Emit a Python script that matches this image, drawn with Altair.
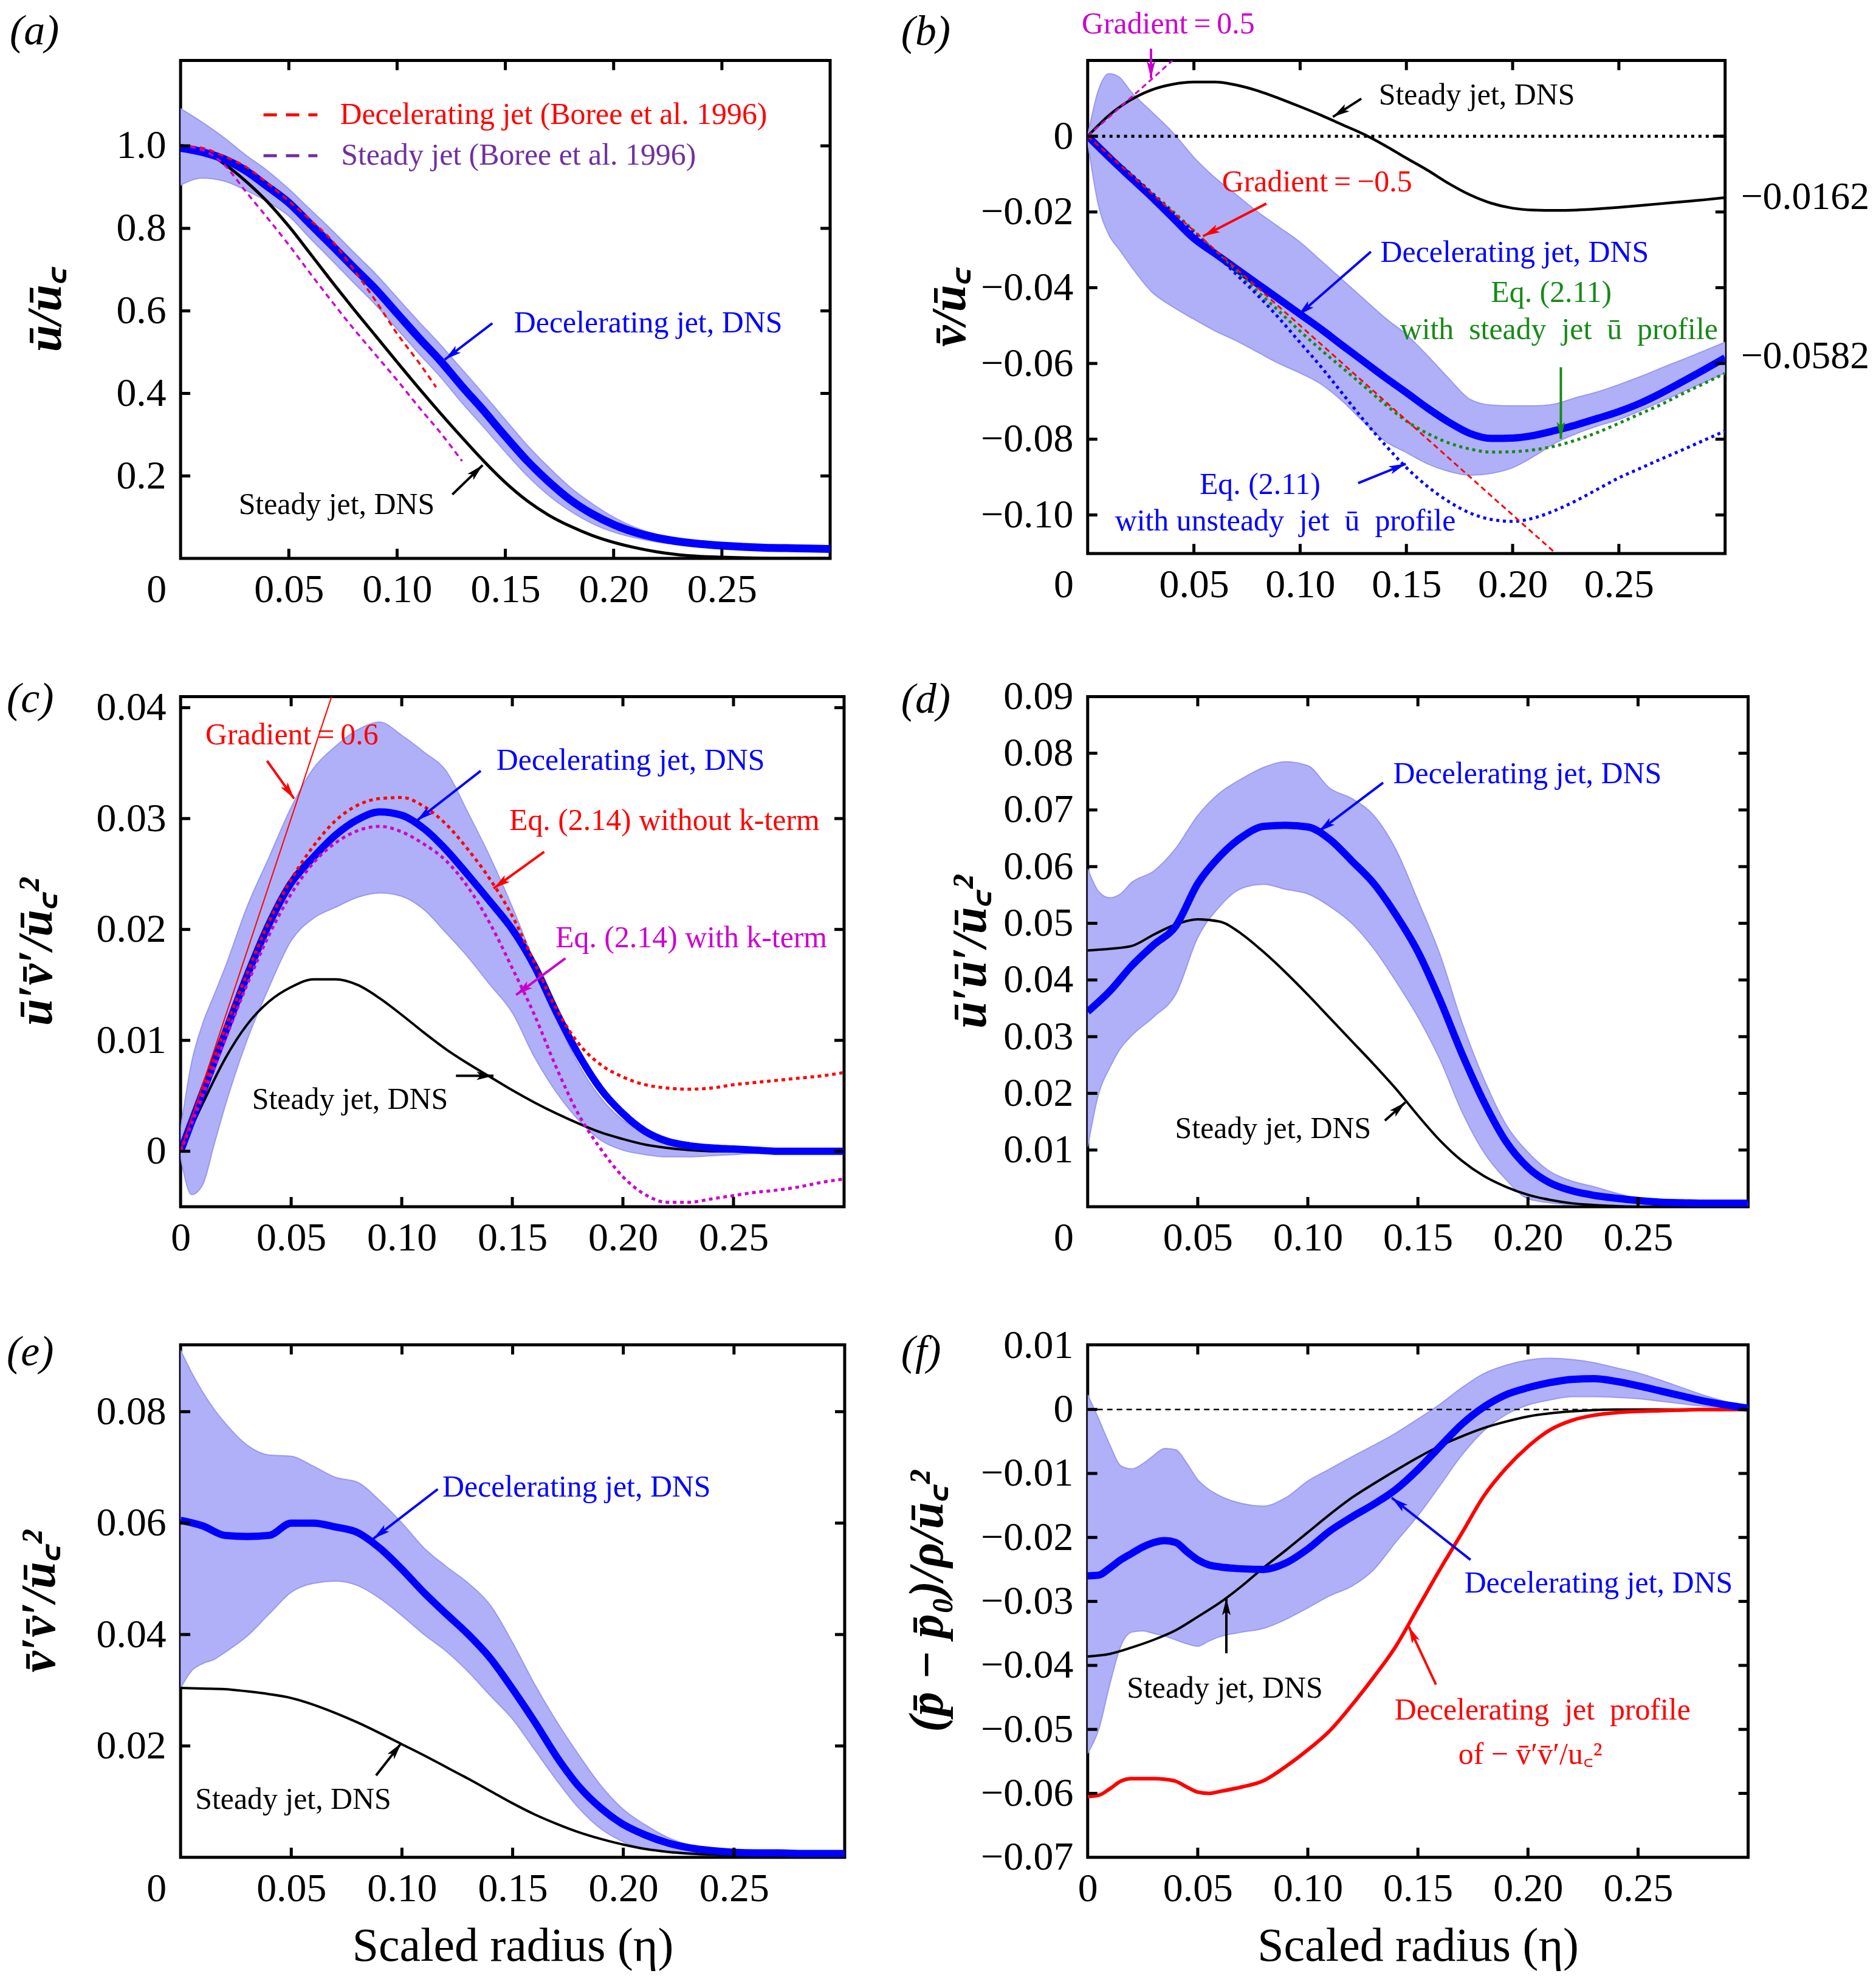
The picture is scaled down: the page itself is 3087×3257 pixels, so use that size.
import math
import altair as alt
import pandas as pd

SERIF = "Liberation Serif"
BLUE = "#0000ff"
BAND_FILL = "#b0b0f8"
BAND_EDGE = "#9898f0"
RED = "#ff0000"
MAGENTA = "#cc00cc"
GREEN = "#178a17"
PURPLE = "#7030a0"
BLACK = "#000000"

# ---------------- shared abscissae ----------------
ETA = [0.00, 0.01, 0.02, 0.03, 0.04, 0.05, 0.06, 0.07, 0.08, 0.09, 0.10,
       0.11, 0.12, 0.13, 0.14, 0.15, 0.16, 0.17, 0.18, 0.19, 0.20,
       0.21, 0.22, 0.23, 0.24, 0.25, 0.26, 0.27, 0.28, 0.29, 0.30]
ETA_BAND = [0.0, 0.005, 0.01, 0.015, 0.02, 0.03, 0.04, 0.05, 0.06, 0.07, 0.08, 0.09, 0.10,
            0.11, 0.12, 0.13, 0.14, 0.15, 0.16, 0.17, 0.18, 0.19, 0.20,
            0.21, 0.22, 0.23, 0.24, 0.25, 0.26, 0.27, 0.28, 0.29, 0.30]
ETA_FINE = [0.0, 0.005, 0.01, 0.015, 0.02, 0.025, 0.03, 0.035, 0.04, 0.045, 0.05, 0.055, 0.06,
            0.07, 0.08, 0.09, 0.10, 0.11, 0.12, 0.13, 0.14, 0.15, 0.16, 0.17, 0.18, 0.19, 0.20,
            0.21, 0.22, 0.23, 0.24, 0.25, 0.26, 0.27, 0.28, 0.29, 0.30]
XLABELS = [0.0, 0.05, 0.10, 0.15, 0.20, 0.25]
XTICKS = [0.05, 0.10, 0.15, 0.20, 0.25]

# ---------------- (a) mean axial velocity ----------------
A_DEC = [0.995, 0.985, 0.968, 0.94, 0.902, 0.862, 0.81, 0.758, 0.705, 0.653, 0.594,
         0.535, 0.479, 0.417, 0.358, 0.296, 0.237, 0.186, 0.142, 0.108, 0.082,
         0.063, 0.05, 0.041, 0.035, 0.031, 0.028, 0.026, 0.025, 0.024, 0.023]
A_HI = [1.09, 1.057, 1.02, 0.978, 0.94, 0.895, 0.845, 0.795, 0.742, 0.69, 0.632,
        0.574, 0.518, 0.458, 0.398, 0.336, 0.275, 0.221, 0.172, 0.133, 0.1,
        0.075, 0.058, 0.047, 0.039, 0.034, 0.031, 0.029, 0.027, 0.026, 0.025]
A_LO = [0.905, 0.922, 0.915, 0.893, 0.865, 0.83, 0.775, 0.722, 0.668, 0.615, 0.556,
        0.497, 0.44, 0.377, 0.318, 0.258, 0.201, 0.153, 0.115, 0.085, 0.064,
        0.05, 0.04, 0.034, 0.03, 0.028, 0.026, 0.024, 0.023, 0.022, 0.021]
A_STEADY = [1.0, 0.99, 0.957, 0.915, 0.865, 0.805, 0.738, 0.67, 0.604, 0.54, 0.476,
            0.413, 0.352, 0.293, 0.236, 0.184, 0.14, 0.105, 0.078, 0.056, 0.039,
            0.026, 0.016, 0.009, 0.005, 0.003, 0.0015, 0.0005, 0.0, 0.0, 0.0]
A_BDEC_X = [0.0, 0.01, 0.02, 0.03, 0.04, 0.05, 0.06, 0.07, 0.08, 0.09, 0.10, 0.11, 0.118]
A_BDEC = [1.0, 0.995, 0.975, 0.95, 0.91, 0.866, 0.82, 0.77, 0.70, 0.625, 0.545, 0.475, 0.415]
A_BST_X = [0.0, 0.01, 0.02, 0.03, 0.04, 0.05, 0.06, 0.07, 0.08, 0.09, 0.10, 0.11, 0.12, 0.13]
A_BST = [1.0, 0.99, 0.955, 0.89, 0.826, 0.76, 0.69, 0.622, 0.556, 0.494, 0.432, 0.367, 0.305, 0.236]

# ---------------- (b) mean radial velocity ----------------
B_DEC = [0.0, -0.0055, -0.0108, -0.016, -0.0215, -0.027, -0.031, -0.035, -0.039, -0.043, -0.047,
         -0.051, -0.0553, -0.0595, -0.0637, -0.0677, -0.0718, -0.0755, -0.0785, -0.0798, -0.0797,
         -0.079, -0.0777, -0.0762, -0.0745, -0.0727, -0.0705, -0.0678, -0.0648, -0.0617, -0.0585]
B_HI = [0.0, 0.012, 0.0165, 0.0155, 0.012, 0.0065, 0.001, -0.0056, -0.011, -0.0155, -0.02, -0.024,
        -0.028, -0.033, -0.038, -0.043, -0.048, -0.0524, -0.058, -0.064, -0.0695, -0.071, -0.0712,
        -0.0712, -0.0707, -0.069, -0.0675, -0.0656, -0.0635, -0.0612, -0.059, -0.0567, -0.0544]
B_LO = [-0.0015, -0.018, -0.026, -0.03, -0.034, -0.041, -0.045, -0.0483, -0.0514, -0.054, -0.057,
        -0.06, -0.0625, -0.0655, -0.07, -0.0755, -0.0805, -0.0835, -0.0865, -0.0885, -0.0895,
        -0.089, -0.0875, -0.0845, -0.081, -0.0785, -0.0765, -0.0748, -0.0725, -0.07, -0.0675,
        -0.065, -0.0625]
B_STEADY = [0.0, 0.0055, 0.0095, 0.0122, 0.0137, 0.0143, 0.0143, 0.0135, 0.012, 0.010, 0.0078,
            0.0055, 0.003, 0.0005, -0.0025, -0.0058, -0.009, -0.0125, -0.0155, -0.0177, -0.019,
            -0.0195, -0.0196, -0.0195, -0.0192, -0.0188, -0.0183, -0.0178, -0.0173, -0.0168, -0.0162]
B_EQ_STEADY = [0.0, -0.005, -0.0098, -0.0148, -0.0198, -0.025, -0.0305, -0.0357, -0.041, -0.0462,
               -0.0515, -0.0565, -0.0612, -0.066, -0.0708, -0.0752, -0.0785, -0.081, -0.0826,
               -0.0834, -0.0833, -0.0828, -0.0818, -0.0802, -0.0782, -0.0758, -0.0733, -0.0708,
               -0.068, -0.0653, -0.0626]
B_EQ_UNSTEADY = [0.0, -0.005, -0.0099, -0.015, -0.0202, -0.0255, -0.031, -0.0365, -0.042, -0.048,
                 -0.0545, -0.061, -0.068, -0.075, -0.0815, -0.0875, -0.0925, -0.0965, -0.0995,
                 -0.1012, -0.1017, -0.1008, -0.0988, -0.0962, -0.0932, -0.0902, -0.0877, -0.0852,
                 -0.0828, -0.0803, -0.0778]
B_RIGHT_VALUES = [-0.0162, -0.0582]
B_RIGHT_TEXT = ["\u22120.0162", "\u22120.0582"]

# ---------------- (c) shear stress ----------------
C_DEC = [0.0, 0.0053, 0.0106, 0.0158, 0.0205, 0.0242, 0.0265, 0.0285, 0.0299, 0.0306, 0.0303,
         0.0291, 0.0272, 0.0249, 0.0225, 0.020, 0.0167, 0.0125, 0.0087, 0.0056, 0.0034,
         0.0018, 0.0009, 0.0005, 0.0003, 0.0002, 0.0001, 0.0, 0.0, 0.0, 0.0]
C_HI = [0.002, 0.008, 0.0115, 0.014, 0.0165, 0.022, 0.0265, 0.031, 0.0345, 0.0365, 0.038, 0.0387,
        0.0375, 0.036, 0.0343, 0.0305, 0.0265, 0.022, 0.017, 0.012, 0.0078, 0.0048, 0.0028,
        0.0017, 0.001, 0.0007, 0.0005, 0.0004, 0.0003, 0.0002, 0.0002, 0.0001, 0.0001]
C_LO = [-0.0005, -0.0039, -0.003, 0.0005, 0.004, 0.01, 0.0148, 0.019, 0.021, 0.022, 0.0229, 0.0233,
        0.023, 0.0218, 0.0197, 0.0175, 0.015, 0.0125, 0.0085, 0.0053, 0.0028, 0.001, 0.0001,
        -0.0003, -0.0005, -0.0005, -0.0004, -0.0003, -0.0002, -0.0002, -0.0001, -0.0001, -0.0001]
C_STEADY = [0.0, 0.0043, 0.0083, 0.0114, 0.0135, 0.0148, 0.0155, 0.0155, 0.015, 0.0138, 0.0123,
            0.0107, 0.0092, 0.0079, 0.0067, 0.0055, 0.0044, 0.0034, 0.0025, 0.0017, 0.0011,
            0.0006, 0.0003, 0.0001, 0.0, 0.0, 0.0, 0.0, 0.0, 0.0, 0.0]
C_EQ_NOK = [0.0, 0.0055, 0.011, 0.016, 0.0207, 0.0245, 0.0275, 0.0298, 0.0312, 0.0318, 0.0319,
            0.0311, 0.0295, 0.0272, 0.0245, 0.0212, 0.017, 0.0128, 0.0097, 0.0078, 0.0067,
            0.006, 0.0057, 0.0056, 0.0057, 0.006, 0.0062, 0.0064, 0.0066, 0.0068, 0.0071]
C_EQ_K = [0.0, 0.005, 0.01, 0.015, 0.0195, 0.0232, 0.026, 0.0278, 0.0289, 0.0293, 0.0288,
          0.0277, 0.0262, 0.0238, 0.0205, 0.0165, 0.0123, 0.0075, 0.0033, 0.0002, -0.0023,
          -0.0039, -0.0046, -0.0046, -0.0043, -0.004, -0.0037, -0.0035, -0.0032, -0.0028, -0.0025]

# ---------------- (d) axial normal stress ----------------
D_DEC = [0.0344, 0.038, 0.0425, 0.0462, 0.0495, 0.057, 0.0618, 0.0652, 0.0671, 0.0673, 0.0670,
         0.0648, 0.061, 0.057, 0.0515, 0.045, 0.0365, 0.027, 0.0185, 0.0115, 0.0069,
         0.0042, 0.0028, 0.002, 0.0015, 0.0011, 0.0008, 0.0007, 0.0006, 0.0006, 0.0006]
D_HI = [0.0596, 0.0556, 0.0545, 0.0552, 0.0572, 0.0592, 0.0632, 0.069, 0.073, 0.0755, 0.0775,
        0.0785, 0.0778, 0.0738, 0.072, 0.069, 0.063, 0.054, 0.0445, 0.0325, 0.0225, 0.0145,
        0.0096, 0.0062, 0.0045, 0.0035, 0.0024, 0.0014, 0.0008, 0.0007, 0.0007, 0.0007, 0.0007]
D_LO = [0.0106, 0.02, 0.0245, 0.028, 0.0302, 0.0335, 0.0375, 0.0475, 0.053, 0.0562, 0.0569,
        0.056, 0.0552, 0.053, 0.05, 0.0455, 0.0398, 0.0335, 0.026, 0.0168, 0.0096, 0.0048,
        0.0014, 0.0007, 0.0004, 0.0003, 0.0002, 0.0002, 0.0001, 0.0001, 0.0001, 0.0001, 0.0001]
D_STEADY = [0.0452, 0.0455, 0.046, 0.048, 0.0498, 0.0507, 0.0503, 0.0481, 0.0449, 0.0413, 0.0374,
            0.0333, 0.0292, 0.0251, 0.0208, 0.0161, 0.0117, 0.0081, 0.0054, 0.0035, 0.0021,
            0.0012, 0.0006, 0.0003, 0.0001, 0.0, 0.0, 0.0, 0.0, 0.0, 0.0]

# ---------------- (e) radial normal stress ----------------
E_DEC = [0.0605, 0.0595, 0.0578, 0.0576, 0.0578, 0.060, 0.060, 0.0593, 0.0583, 0.0555, 0.0517,
         0.0475, 0.0437, 0.040, 0.0357, 0.0302, 0.0243, 0.018, 0.0127, 0.0088, 0.0059,
         0.004, 0.0026, 0.0017, 0.0012, 0.0009, 0.0008, 0.0008, 0.0007, 0.0007, 0.0007]
E_HI = [0.091, 0.087, 0.0835, 0.0805, 0.078, 0.074, 0.0722, 0.072, 0.0702, 0.0682, 0.0673,
        0.064, 0.060, 0.0555, 0.0522, 0.0492, 0.0452, 0.0385, 0.031, 0.0243, 0.0183, 0.0128,
        0.0086, 0.0058, 0.0036, 0.0022, 0.0015, 0.0011, 0.001, 0.0009, 0.0009, 0.0008, 0.0008]
E_LO = [0.0304, 0.0335, 0.0348, 0.0355, 0.0368, 0.0397, 0.0437, 0.0476, 0.0492, 0.0496, 0.0488,
        0.0465, 0.0434, 0.040, 0.037, 0.0333, 0.029, 0.0248, 0.0193, 0.0138, 0.0088, 0.0051,
        0.0028, 0.0015, 0.0009, 0.0005, 0.0004, 0.0003, 0.0003, 0.0002, 0.0002, 0.0002, 0.0002]
E_STEADY = [0.0304, 0.0303, 0.0302, 0.0298, 0.0293, 0.0286, 0.0274, 0.0259, 0.0242, 0.0223, 0.0203,
            0.0183, 0.0162, 0.0141, 0.0119, 0.0097, 0.0077, 0.006, 0.0045, 0.0033, 0.0023,
            0.0015, 0.001, 0.0007, 0.0005, 0.0003, 0.0002, 0.0001, 0.0, 0.0, 0.0]

# ---------------- (f) pressure ----------------
F_DEC = [-0.026, -0.0259, -0.0248, -0.0235, -0.0225, -0.0215, -0.0208, -0.0205, -0.0208, -0.0222,
         -0.0235, -0.0243, -0.0246, -0.0249, -0.025, -0.024, -0.0218, -0.019, -0.0168, -0.0148,
         -0.0125, -0.0094, -0.0058, -0.0023, 0.0004, 0.0023, 0.0034, 0.0042, 0.0047, 0.0048,
         0.0044, 0.0037, 0.0029, 0.0021, 0.0013, 0.0007, 0.0002]
F_HI = [0.0023, -0.0015, -0.0055, -0.0088, -0.0093, -0.0085, -0.0072, -0.0061, -0.0063, -0.0084,
        -0.011, -0.0125, -0.0135, -0.0147, -0.0151, -0.0138, -0.0112, -0.0093, -0.0074, -0.0056,
        -0.0037, -0.0015, 0.0008, 0.0034, 0.0056, 0.0069, 0.0077, 0.008, 0.0078, 0.0073,
        0.0065, 0.0057, 0.0046, 0.0034, 0.0022, 0.0012, 0.0004]
F_LO = [-0.0537, -0.050, -0.043, -0.037, -0.0348, -0.0346, -0.035, -0.0354, -0.036, -0.0366,
        -0.037, -0.0362, -0.0355, -0.0348, -0.0342, -0.0328, -0.031, -0.0291, -0.0276, -0.025,
        -0.0207, -0.0166, -0.0119, -0.0071, -0.0033, -0.0008, 0.0007, 0.0015, 0.002, 0.002,
        0.0019, 0.0017, 0.0013, 0.0009, 0.0005, 0.0003, 0.0001]
F_STEADY = [-0.0386, -0.0382, -0.0372, -0.036, -0.0345, -0.0324, -0.0302, -0.0276, -0.0247, -0.022,
            -0.0192, -0.0164, -0.0138, -0.0116, -0.0095, -0.0075, -0.0057, -0.0042, -0.0029,
            -0.0019, -0.0011, -0.0006, -0.0003, -0.0001, 0.0, 0.0, 0.0, 0.0, 0.0, 0.0, 0.0]
F_VV = [-0.0605, -0.0603, -0.0593, -0.0581, -0.0577, -0.0577, -0.0577, -0.0578, -0.0581, -0.059,
        -0.0598, -0.060, -0.0597, -0.059, -0.058, -0.0558, -0.0532, -0.0502, -0.0462, -0.0418,
        -0.037, -0.031, -0.025, -0.0193, -0.0135, -0.0092, -0.0058, -0.0032, -0.0017, -0.0009,
        -0.0005, -0.0003, -0.0002, -0.0001, 0.0, 0.0, 0.0]

ARROW = "M0,0 L0.5,2 L0,1.55 L-0.5,2 Z"
UC = "ū\ua700"          # u-bar with a low "c"
MAC = "\u0304"          # combining macron


class Panel:
    def __init__(self, w, h, ydom, ytitle, title_x, ylabels, yfmt, yticks, zero_shift, xtitle=None):
        self.w, self.h = w, h
        self.xdom = [0.0, 0.3]
        self.ydom = ydom
        self.xs = alt.Scale(domain=self.xdom, nice=False, zero=False)
        self.ys = alt.Scale(domain=ydom, nice=False, zero=False)
        xkw = dict(values=XLABELS,
                   labelExpr="datum.value == 0 ? '0' : format(datum.value, '.2f')",
                   labelFlush=False, labelPadding=20,
                   labelOffset={"condition": {"test": "datum.value == 0", "value": zero_shift}, "value": 0})
        if xtitle:
            xkw.update(title=xtitle, titleX=w / 2, titleY=147, titleBaseline="middle",
                       titleAlign="center", titleFontSize=78, titleFontWeight="normal")
        else:
            xkw.update(title=None)
        self.xaxis = alt.Axis(**xkw)
        self.yaxis = alt.Axis(values=ylabels, labelExpr=yfmt, labelPadding=24, title=ytitle,
                              titleX=title_x, titleY=h / 2, titleAngle=270, titleAlign="center",
                              titleBaseline="middle", titleFontStyle="italic", titleFontWeight="bold",
                              titleFontSize=80)
        self.yticks = yticks
        self.layers = []

    def X(self, f):
        return alt.X(f, type="quantitative", scale=self.xs, axis=self.xaxis)

    def Y(self, f):
        return alt.Y(f, type="quantitative", scale=self.ys, axis=self.yaxis)

    def band(self, xs, lo, hi):
        df = pd.DataFrame({"x": xs, "lo": lo, "hi": hi})
        self.layers.append(alt.Chart(df).mark_area(
            color=BAND_FILL, opacity=1, stroke=BAND_EDGE, strokeWidth=2,
            interpolate="monotone", clip=True).encode(
            x=self.X("x"), y=self.Y("lo"), y2=alt.Y2("hi")))

    def line(self, xs, ys, color, width, dash=None, interp="monotone"):
        df = pd.DataFrame({"x": xs, "y": ys})
        kw = dict(color=color, strokeWidth=width, clip=True, interpolate=interp)
        if dash:
            kw["strokeDash"] = dash
        self.layers.append(alt.Chart(df).mark_line(**kw).encode(x=self.X("x"), y=self.Y("y")))

    def seg(self, x0, y0, x1, y1, color, width, dash=None):
        df = pd.DataFrame({"x0": [x0], "y0": [y0], "x1": [x1], "y1": [y1]})
        kw = dict(color=color, strokeWidth=width)
        if dash:
            kw["strokeDash"] = dash
        self.layers.append(alt.Chart(df).mark_rule(**kw).encode(
            x=self.X("x0"), y=self.Y("y0"), x2=alt.X2("x1"), y2=alt.Y2("y1")))

    def arrow(self, x0, y0, x1, y1, color):
        dxp = (x1 - x0) / (self.xdom[1] - self.xdom[0]) * self.w
        dyp = -(y1 - y0) / (self.ydom[1] - self.ydom[0]) * self.h
        ang = math.degrees(math.atan2(dxp, -dyp)) % 360
        self.seg(x0, y0, x1, y1, color, 4)
        df = pd.DataFrame({"x": [x1], "y": [y1]})
        self.layers.append(alt.Chart(df).mark_point(
            shape=ARROW, filled=True, color=color, opacity=1, size=784, angle=ang).encode(
            x=self.X("x"), y=self.Y("y")))

    def text(self, x, y, s, color, align="left", size=50):
        df = pd.DataFrame({"x": [x], "y": [y], "s": [s]})
        self.layers.append(alt.Chart(df).mark_text(
            align=align, baseline="middle", font=SERIF, fontSize=size, color=color).encode(
            x=self.X("x"), y=self.Y("y"), text="s:N"))

    def letter(self, s, px, py):
        df = pd.DataFrame({"s": [s]})
        self.layers.append(alt.Chart(df).mark_text(
            align="left", baseline="middle", font=SERIF, fontSize=70, fontStyle="italic",
            color=BLACK).encode(text="s:N", x=alt.value(px), y=alt.value(py)))

    def ticks(self, L=16):
        dfx = pd.DataFrame({"t": XTICKS})
        dfy = pd.DataFrame({"t": self.yticks})
        kw = dict(color=BLACK, strokeWidth=5)
        self.layers.append(alt.Chart(dfx).mark_rule(**kw).encode(
            x=self.X("t"), y=alt.value(0), y2=alt.value(L)))
        self.layers.append(alt.Chart(dfx).mark_rule(**kw).encode(
            x=self.X("t"), y=alt.value(self.h - L), y2=alt.value(self.h)))
        self.layers.append(alt.Chart(dfy).mark_rule(**kw).encode(
            y=self.Y("t"), x=alt.value(0), x2=alt.value(L)))
        self.layers.append(alt.Chart(dfy).mark_rule(**kw).encode(
            y=self.Y("t"), x=alt.value(self.w - L), x2=alt.value(self.w)))

    def chart(self):
        return alt.layer(*self.layers).properties(width=self.w, height=self.h)


ZERO2 = "datum.value == 0 ? '0' : format(datum.value, '.2f')"
DNS = "Decelerating jet, DNS"
STEADY = "Steady jet, DNS"
NB = "\u00a0"

# ---------- (a) ----------
pa = Panel(1072, 822, [0.0, 1.207], "ū/" + UC, -222, [0.2, 0.4, 0.6, 0.8, 1.0],
           "format(datum.value, '.1f')", [0.2, 0.4, 0.6, 0.8, 1.0], -40)
pa.band(ETA, A_LO, A_HI)
pa.line(ETA, A_STEADY, BLACK, 5)
pa.line(ETA, A_DEC, BLUE, 13)
pa.line(A_BDEC_X, A_BDEC, RED, 3.5, [9, 7])
pa.line(A_BST_X, A_BST, MAGENTA, 3.5, [9, 7])
pa.ticks()
pa.seg(0.0383, 1.075, 0.0632, 1.075, RED, 5, [22, 15])
pa.seg(0.0383, 0.976, 0.0632, 0.976, PURPLE, 5, [22, 15])
pa.text(0.0736, 1.075, "Decelerating jet (Boree et al. 1996)", RED)
pa.text(0.0741, 0.976, "Steady jet (Boree et al. 1996)", PURPLE)
pa.arrow(0.144, 0.570, 0.122, 0.482, BLUE)
pa.text(0.154, 0.570, DNS, BLUE)
pa.arrow(0.1255, 0.155, 0.1395, 0.226, BLACK)
pa.text(0.0268, 0.130, STEADY, BLACK)
pa.letter("(a)", -282, -48)

# ---------- (b) ----------
pb = Panel(1052, 814, [-0.1102, 0.02], "v" + MAC + "/" + UC, -227,
           [0.0, -0.02, -0.04, -0.06, -0.08, -0.10],
           ZERO2, [0.0, -0.02, -0.04, -0.06, -0.08, -0.10], -40)
pb.band(ETA_BAND, B_LO, B_HI)
pb.seg(0.0, 0.0, 0.3, 0.0, BLACK, 5, [5, 7])
pb.line(ETA, B_STEADY, BLACK, 4.5)
pb.line(ETA, B_DEC, BLUE, 12)
pb.line(ETA, B_EQ_STEADY, GREEN, 5, [5, 6])
pb.line(ETA, B_EQ_UNSTEADY, BLUE, 5, [5, 6])
pb.line([0.0, 0.2204], [0.0, -0.1102], RED, 3, [9, 6], "linear")
pb.line([0.0, 0.04], [0.0, 0.02], MAGENTA, 3, [9, 6], "linear")
pb.ticks()
right = pd.DataFrame({"y": B_RIGHT_VALUES, "s": B_RIGHT_TEXT})
pb.layers.append(alt.Chart(right).mark_text(
    align="left", baseline="middle", font=SERIF, fontSize=64, color=BLACK).encode(
    x=alt.value(1052 + 26), y=pb.Y("y"), text="s:N"))
pb.text(0.0379, 0.0295, "Gradient\u2009=\u20090.5", MAGENTA, align="center")
pb.arrow(0.0298, 0.0231, 0.0298, 0.0153, MAGENTA)
pb.arrow(0.1288, 0.0099, 0.1154, 0.0051, BLACK)
pb.text(0.137, 0.0107, STEADY, BLACK)
pb.arrow(0.0841, -0.0178, 0.0543, -0.0264, RED)
pb.text(0.0632, -0.0122, "Gradient\u2009=\u2009\u22120.5", RED)
pb.arrow(0.1333, -0.0305, 0.099, -0.0473, BLUE)
pb.text(0.1378, -0.0308, DNS, BLUE)
pb.text(0.2182, -0.0414, "Eq. (2.11)", GREEN, align="center")
pb.text(0.2218, -0.0512, "with" + NB + " steady" + NB + " jet" + NB + " ū" + NB + " profile", GREEN, align="center")
pb.arrow(0.2227, -0.061, 0.2227, -0.0799, GREEN)
pb.text(0.0811, -0.0921, "Eq. (2.11)", BLUE, align="center")
pb.text(0.093, -0.1017, "with unsteady" + NB + " jet" + NB + " ū" + NB + " profile", BLUE, align="center")
pb.arrow(0.1273, -0.0916, 0.1497, -0.0865, BLUE)
pb.letter("(b)", -308, -47)

# ---------- (c) ----------
pc = Panel(1095, 842, [-0.005, 0.041], "ū′v" + MAC + "′/" + UC + "²", -237,
           [0.0, 0.01, 0.02, 0.03, 0.04], ZERO2, [0.0, 0.01, 0.02, 0.03, 0.04], 0)
pc.band(ETA_BAND, C_LO, C_HI)
pc.line(ETA, C_STEADY, BLACK, 4)
pc.line(ETA, C_DEC, BLUE, 12)
pc.line(ETA, C_EQ_NOK, RED, 5, [6, 6])
pc.line(ETA, C_EQ_K, MAGENTA, 5, [6, 6])
pc.line([0.0, 0.0683], [0.0, 0.041], RED, 2, None, "linear")
pc.ticks()
pc.text(0.0112, 0.0375, "Gradient\u2009=\u20090.6", RED)
pc.arrow(0.0391, 0.0352, 0.0513, 0.0318, RED)
pc.arrow(0.1357, 0.0343, 0.1067, 0.0298, BLUE)
pc.text(0.1428, 0.0352, DNS, BLUE)
pc.arrow(0.1644, 0.027, 0.1415, 0.0237, RED)
pc.text(0.1486, 0.0298, "Eq. (2.14) without k-term", RED)
pc.arrow(0.174, 0.0174, 0.1517, 0.0141, MAGENTA)
pc.text(0.1695, 0.0192, "Eq. (2.14) with k-term", MAGENTA)
pc.arrow(0.1245, 0.0068, 0.1415, 0.0068, BLACK)
pc.text(0.0323, 0.00465, STEADY, BLACK)
pc.letter("(c)", -287, 5)

# ---------- (d) ----------
dvals = [0.01, 0.02, 0.03, 0.04, 0.05, 0.06, 0.07, 0.08, 0.09]
pd_ = Panel(1090, 842, [0.0, 0.09], "ū′ū′/" + UC + "²", -193, dvals,
            "format(datum.value, '.2f')", dvals[:-1], -40)
pd_.band(ETA_BAND, D_LO, D_HI)
pd_.line(ETA, D_STEADY, BLACK, 4)
pd_.line(ETA, D_DEC, BLUE, 12)
pd_.ticks()
pd_.arrow(0.1342, 0.0748, 0.1049, 0.0662, BLUE)
pd_.text(0.1388, 0.0763, DNS, BLUE)
pd_.arrow(0.135, 0.0152, 0.1443, 0.0184, BLACK)
pd_.text(0.0397, 0.0137, STEADY, BLACK)
pd_.letter("(d)", -308, 6)

# ---------- (e) ----------
evals = [0.02, 0.04, 0.06, 0.08]
pe = Panel(1096, 846, [0.0, 0.092], "v" + MAC + "′v" + MAC + "′/" + UC + "²", -232, evals,
           "format(datum.value, '.2f')", evals, -40, xtitle="Scaled radius (η)")
pe.band(ETA_BAND, E_LO, E_HI)
pe.line(ETA, E_STEADY, BLACK, 4)
pe.line(ETA, E_DEC, BLUE, 12)
pe.ticks()
pe.arrow(0.1162, 0.0661, 0.0871, 0.0572, BLUE)
pe.text(0.1183, 0.0664, DNS, BLUE)
pe.arrow(0.0883, 0.0147, 0.0997, 0.0205, BLACK)
pe.text(0.0066, 0.0103, STEADY, BLACK)
pe.letter("(e)", -287, 13)

# ---------- (f) ----------
fvals = [0.01, 0.0, -0.01, -0.02, -0.03, -0.04, -0.05, -0.06, -0.07]
pf = Panel(1090, 846, [-0.07, 0.0101], "(p" + MAC + " − p" + MAC + "₀)/ρ/" + UC + "²", -264, fvals,
           ZERO2, [0.0, -0.01, -0.02, -0.03, -0.04, -0.05, -0.06], 0, xtitle="Scaled radius (η)")
pf.band(ETA_FINE, F_LO, F_HI)
pf.seg(0.0, 0.0, 0.3, 0.0, BLACK, 2.5, [9, 7])
pf.line(ETA, F_STEADY, BLACK, 4)
pf.line(ETA_FINE, F_VV, RED, 6)
pf.line(ETA_FINE, F_DEC, BLUE, 12)
pf.ticks()
pf.arrow(0.1739, -0.0235, 0.1381, -0.0138, BLUE)
pf.text(0.1711, -0.0272, DNS, BLUE)
pf.arrow(0.063, -0.0381, 0.063, -0.0295, BLACK)
pf.text(0.0178, -0.0436, STEADY, BLACK)
pf.arrow(0.1582, -0.043, 0.1458, -0.0339, RED)
pf.text(0.2066, -0.047, "Decelerating" + NB + " jet" + NB + " profile", RED, align="center")
pf.text(0.2011, -0.054, "of − v" + MAC + "′v" + MAC + "′/u\ua700²", RED, align="center")
pf.letter("(f)", -308, 12)

chart = alt.concat(
    pa.chart(), pb.chart(), pc.chart(), pd_.chart(), pe.chart(), pf.chart(),
    columns=2, spacing={"row": 228, "column": 401}, bounds="flush", align="each",
).properties(padding=0, background="white").configure_axis(
    domain=False, ticks=False, grid=False, labelFont=SERIF, labelFontSize=66,
    labelColor=BLACK, titleFont=SERIF, titleColor=BLACK,
).configure_view(stroke=BLACK, strokeWidth=5)

chart.save("out.html", embed_options={"renderer": "svg", "actions": False})
